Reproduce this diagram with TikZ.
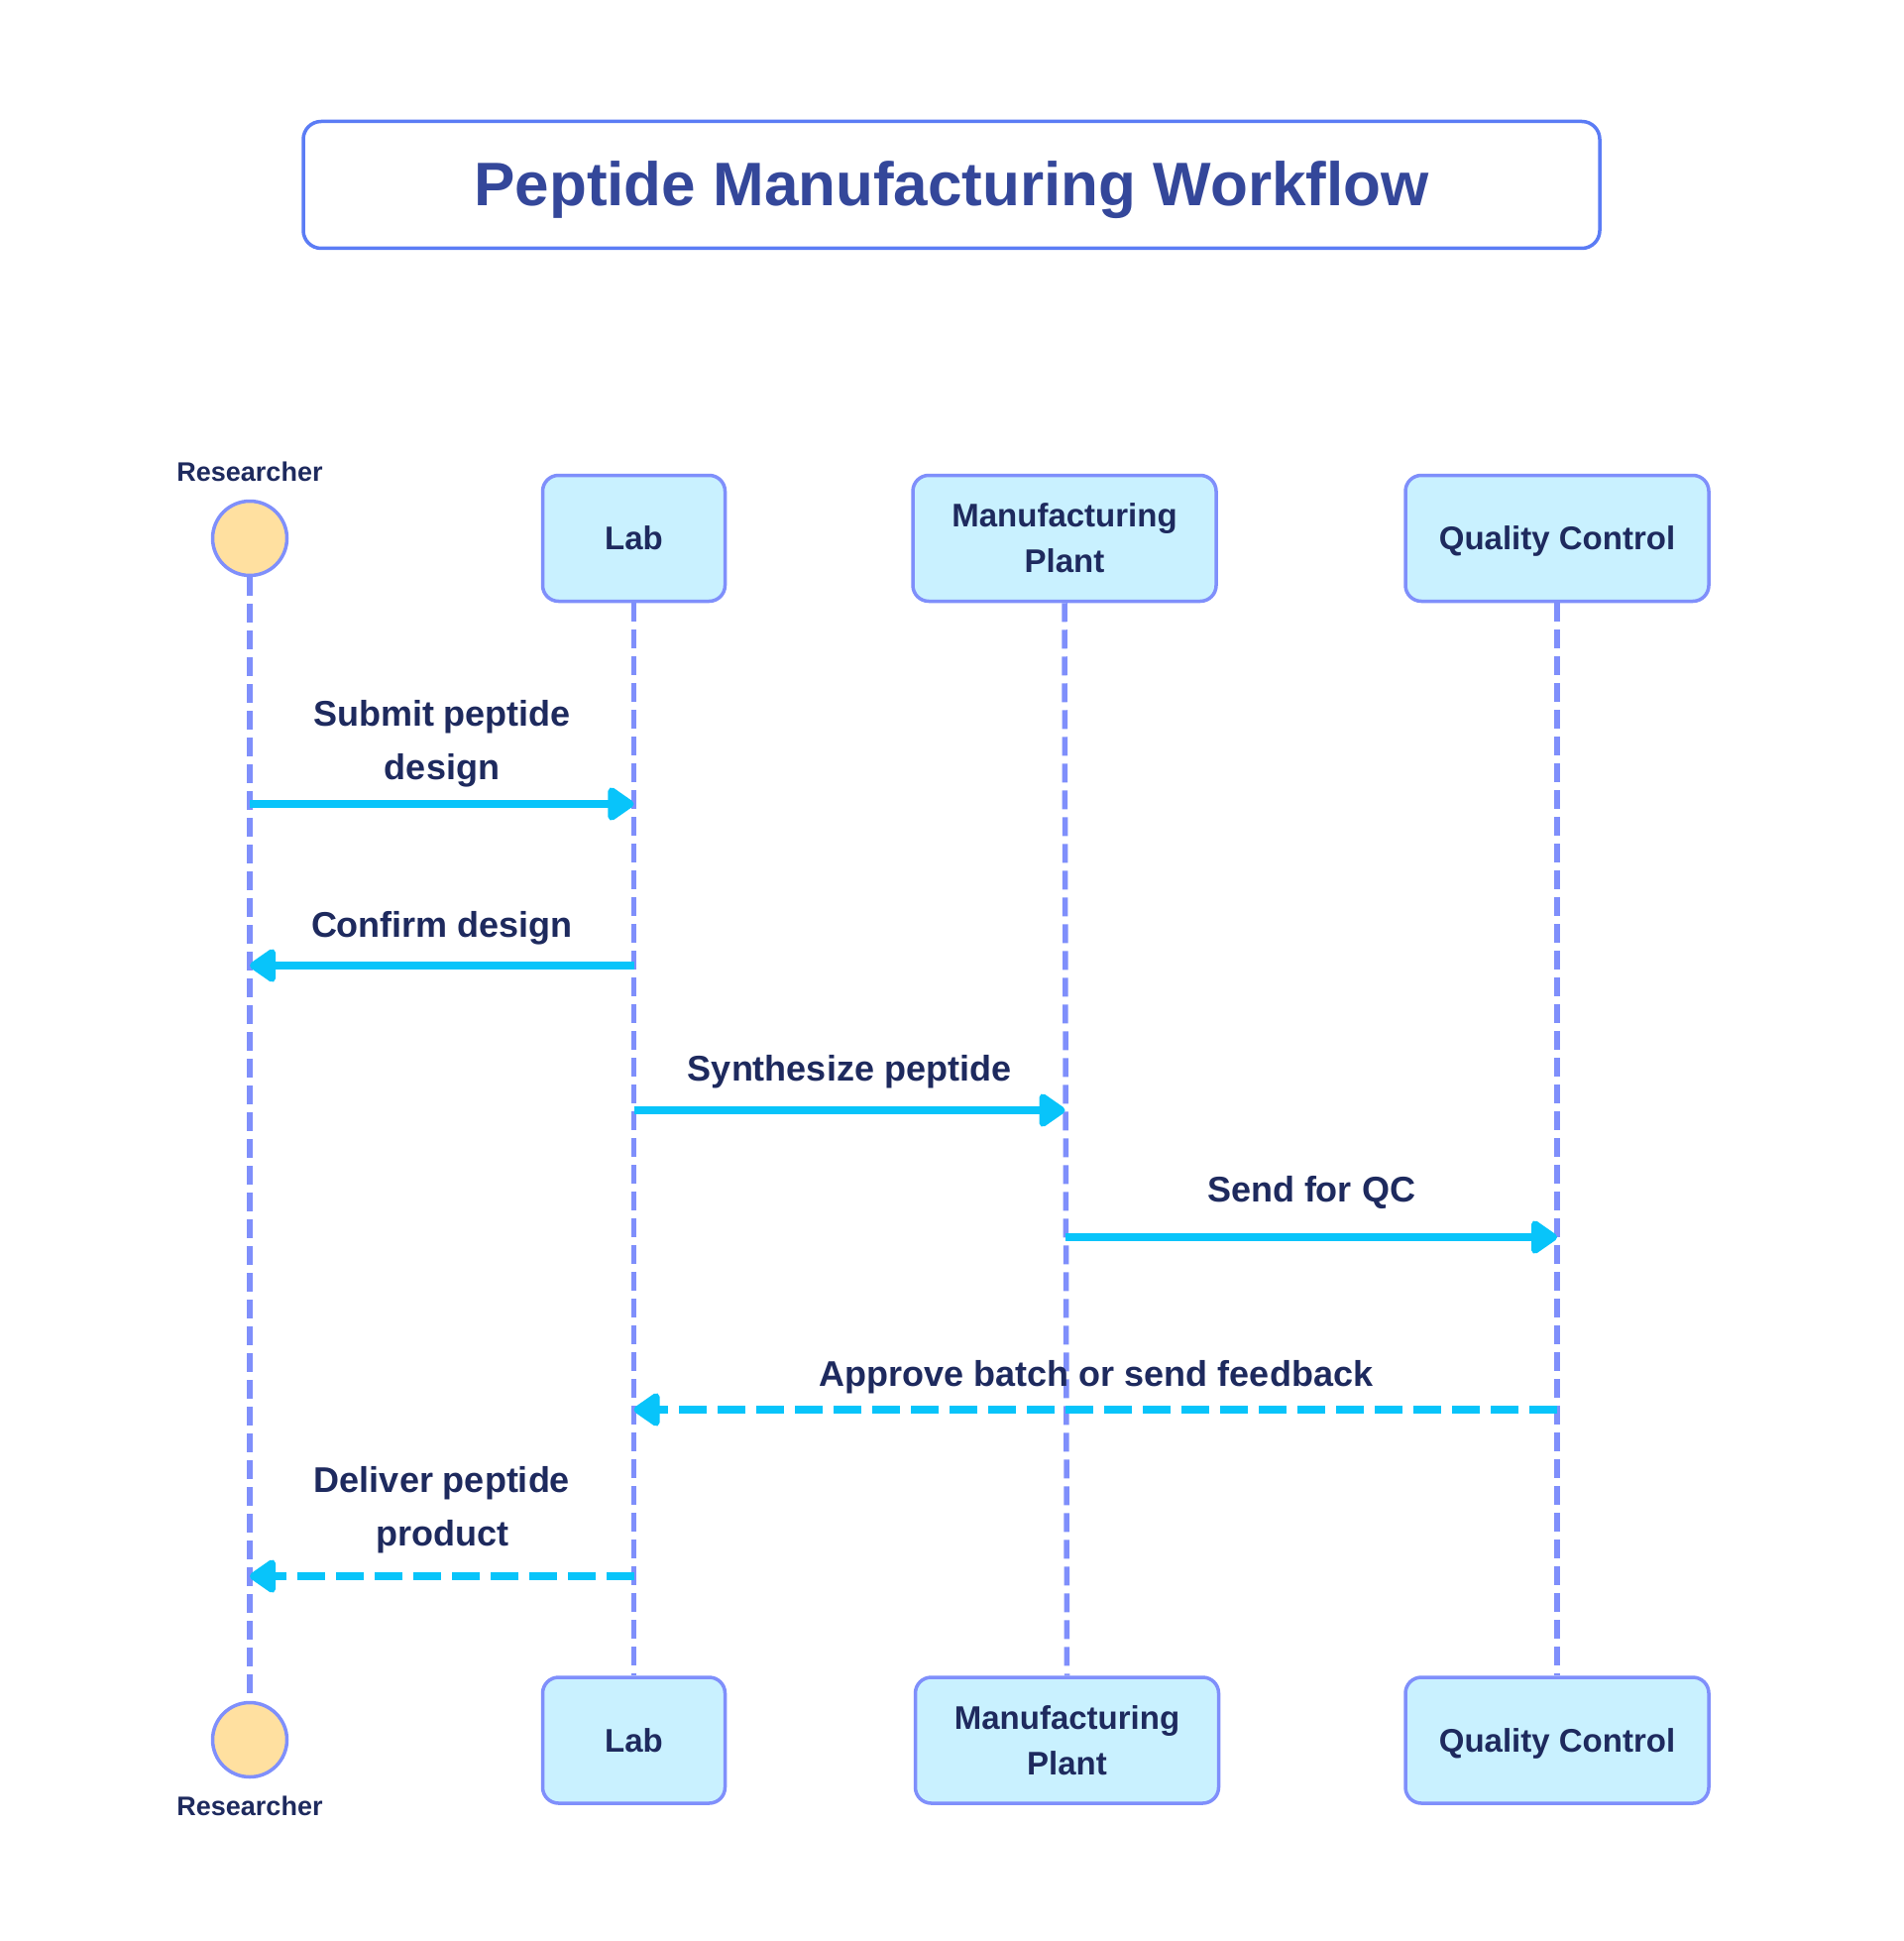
\documentclass[tikz,border=0pt]{standalone}
\usepackage{fontspec}
\setmainfont{Liberation Sans}
\usetikzlibrary{arrows.meta}
\definecolor{lifec}{HTML}{7F8FFB}
\definecolor{boxfill}{HTML}{C9F1FF}
\definecolor{actfill}{HTML}{FFE0A0}
\definecolor{msgc}{HTML}{08C4FA}
\definecolor{txtc}{HTML}{1E2A5E}
\definecolor{titlec}{HTML}{34479A}
\definecolor{titleborder}{HTML}{5B7CF5}
\begin{document}
\begin{tikzpicture}[x=1pt,y=-1pt,
  partbox/.style={draw=lifec, line width=3.5pt, fill=boxfill, rounded corners=16pt,
    minimum height=127pt, text=txtc, font=\fontsize{33}{46}\selectfont\bfseries,
    align=center, inner sep=0pt},
  actor/.style={circle, draw=lifec, line width=3.5pt, fill=actfill, minimum size=75pt, inner sep=0pt},
  actorlabel/.style={text=txtc, font=\fontsize{27}{32}\selectfont\bfseries, inner sep=0pt},
  lifeline/.style={draw=lifec, line width=5.5pt, dash pattern=on 19pt off 8pt},
  msg/.style={draw=msgc, line width=8.5pt, -{Triangle[length=29pt,width=38pt,round]}},
  dmsg/.style={msg, dash pattern=on 28pt off 11pt},
  msglabel/.style={text=txtc, font=\fontsize{36}{54}\selectfont\bfseries, align=center, inner sep=0pt},
  titlebox/.style={draw=titleborder, line width=3.5pt, fill=white, rounded corners=18pt,
    minimum width=1308pt, minimum height=128pt},
  titletext/.style={text=titlec, font=\fontsize{62}{70}\selectfont\bfseries, inner sep=0pt}
]
\useasboundingbox[fill=white] (0,0) rectangle (1920,1958);

% title
\node[titlebox] (title) at (960,186.5) {};
\node[titletext] (titlet) at (960,192) {Peptide Manufacturing Workflow};

% participants (top)
\node[actor] (res) at (252,543) {};
\node[actorlabel] (resl) at (252,476) {Researcher};
\node[partbox, minimum width=184pt] (lab) at (639.5,543) {Lab};
\node[partbox, minimum width=306pt] (mp) at (1074,543) {Manufacturing\\Plant};
\node[partbox, minimum width=306pt, text depth=0pt] (qc) at (1571,543) {Quality Control};

% participants (bottom)
\node[actor] (resb) at (252,1755) {};
\node[actorlabel] (resbl) at (252,1822) {Researcher};
\node[partbox, minimum width=184pt] (labb) at (639.5,1755.5) {Lab};
\node[partbox, minimum width=306pt] (mpb) at (1076.5,1755.5) {Manufacturing\\Plant};
\node[partbox, minimum width=306pt, text depth=0pt] (qcb) at (1571,1755.5) {Quality Control};

% lifelines
\draw[lifeline] (res.south) -- (resb.north);
\draw[lifeline] (lab.south) -- (labb.north);
\draw[lifeline] (mp.south) -- (mpb.north);
\draw[lifeline] (qc.south) -- (qcb.north);

% message anchor points on lifelines
\coordinate (r1) at (252,811);   \coordinate (l1) at (639.5,811);
\coordinate (l2) at (639.5,974); \coordinate (r2) at (252,974);
\coordinate (l3) at (639.5,1120); \coordinate (m3) at (1074.5,1120);
\coordinate (m4) at (1075,1248); \coordinate (q4) at (1571,1248);
\coordinate (q5) at (1571,1422); \coordinate (l5) at (639.5,1422);
\coordinate (l6) at (639.5,1590); \coordinate (r6) at (252,1590);

% messages
\draw[msg] (r1) -- (l1);
\node[msglabel] (t1) at (446,750) {Submit peptide\\design};
\draw[msg] (l2) -- (r2);
\node[msglabel] (t2) at (446,936) {Confirm design};
\draw[msg] (l3) -- (m3);
\node[msglabel] (t3) at (857,1081) {Synthesize peptide};
\draw[msg] (m4) -- (q4);
\node[msglabel] (t4) at (1323,1203) {Send for QC};
\draw[dmsg] (q5) -- (l5);
\node[msglabel] (t5) at (1106,1389) {Approve batch or send feedback};
\draw[dmsg] (l6) -- (r6);
\node[msglabel] (t6) at (446,1523) {Deliver peptide\\product};
\end{tikzpicture}
\end{document}
